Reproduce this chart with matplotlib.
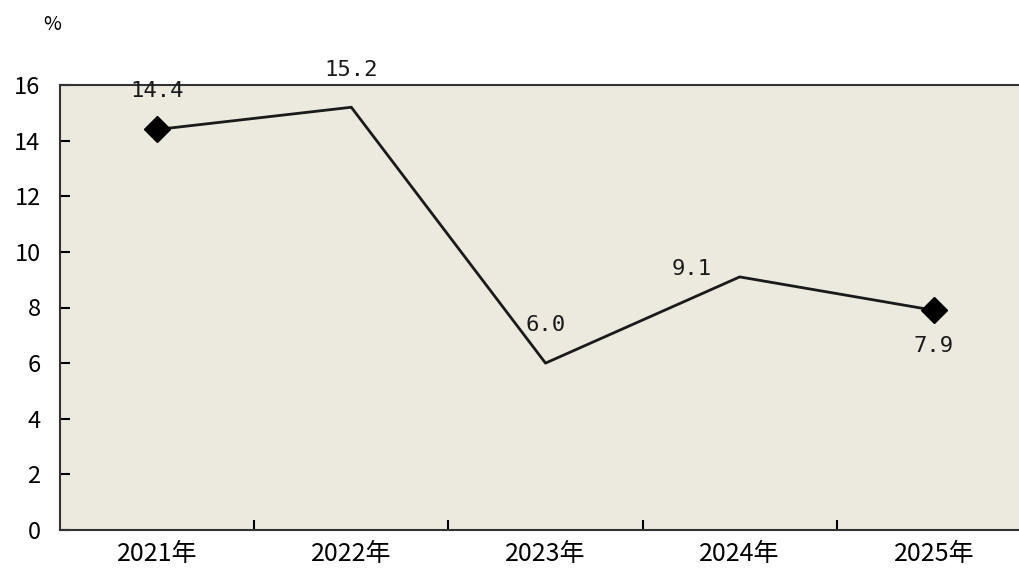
import matplotlib
matplotlib.use("Agg")
import matplotlib.pyplot as plt
from matplotlib.ticker import FixedLocator

plt.rcParams['font.family'] = ['Noto Sans CJK SC', 'DejaVu Sans']

years = ["2021年", "2022年", "2023年", "2024年", "2025年"]
growth = [14.4, 15.2, 6.0, 9.1, 7.9]
# label offsets in pixels (dx, dy) relative to each point
label_offsets = [(0, 38), (0, 37), (0, 38), (-48, 8), (0, -36)]


def main():
    fig = plt.figure(figsize=(10.2, 5.78), dpi=100)
    # plot area runs past the right edge of the picture, like the original
    ax = fig.add_axes([60 / 1020, 48 / 578, 971 / 1020, 445 / 578])
    ax.set_facecolor("#ECE9DF")

    x = list(range(1, len(years) + 1))
    ax.plot(x, growth, color="#1a1a1a", linewidth=2)
    ax.plot([x[0], x[-1]], [growth[0], growth[-1]], linestyle="none",
            marker="D", markersize=13, color="black")

    for xi, v, (dx, dy) in zip(x, growth, label_offsets):
        ax.annotate(f"{v:.1f}", (xi, v), xytext=(dx * 0.72, dy * 0.72),
                    textcoords="offset points", ha="center", va="center",
                    fontsize=16, family=["DejaVu Sans Mono"], color="#1a1a1a")

    ax.set_xlim(0.5, len(years) + 0.5)
    ax.set_ylim(0, 16)
    ax.set_yticks(range(0, 17, 2))
    ax.set_xticks(x)
    ax.set_xticklabels(years)
    ax.xaxis.set_minor_locator(FixedLocator([1.5, 2.5, 3.5, 4.5]))
    ax.tick_params(axis="x", which="major", length=0, labelsize=18, pad=8)
    ax.tick_params(axis="x", which="minor", direction="in", length=7, width=1.5)
    ax.tick_params(axis="y", direction="in", length=7, width=1.5, labelsize=17, pad=14)

    for s in ax.spines.values():
        s.set_linewidth(1.5)
        s.set_color("#333333")

    fig.text(52 / 1020, 1 - 25 / 578, "%", ha="center", va="center", fontsize=14)

    fig.savefig("out.png", dpi=100, facecolor="white")


if __name__ == "__main__":
    main()
